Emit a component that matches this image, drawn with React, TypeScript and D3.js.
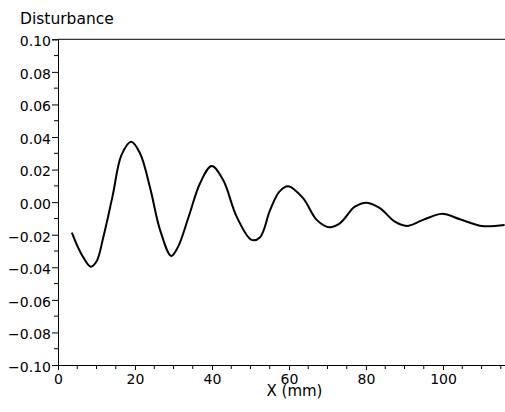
import React, { useRef, useEffect } from "react";
import * as d3 from "d3";

// values
const xPositions = [
  3.6, 6.0, 8.5, 10.0, 11.8, 14.2, 16.5, 19.0, 21.3, 24.0, 26.5, 29.4, 31.2,
  34.0, 36.9, 39.9, 42.9, 46.4, 50.3, 52.5, 55.1, 57.5, 59.8, 63.6, 67.2, 70.4,
  73.2, 77.1, 80.2, 83.6, 87.5, 90.6, 94.8, 99.7, 104.4, 110.0, 116.0,
];
const disturbance = [
  -0.0187, -0.0315, -0.0396, -0.0365, -0.0212, 0.004, 0.029, 0.0371, 0.03,
  0.008, -0.017, -0.033, -0.0273, -0.0085, 0.0116, 0.0222, 0.0136, -0.0089,
  -0.0232, -0.0215, -0.0048, 0.0065, 0.0098, 0.0026, -0.0109, -0.0154, -0.013,
  -0.0028, -0.0003, -0.0037, -0.012, -0.0146, -0.0109, -0.0072, -0.0105,
  -0.0146, -0.014,
];
const xMajorTicks = [0, 20, 40, 60, 80, 100];
const yMajorTicks = [-0.1, -0.08, -0.06, -0.04, -0.02, 0, 0.02, 0.04, 0.06, 0.08, 0.1];

const width = 505;
const height = 412;
const margin = { top: 39.3, right: 0, bottom: 47, left: 58 };

const App = () => {
  const svgRef = useRef<SVGSVGElement>(null);

  useEffect(() => {
    const svg = d3.select(svgRef.current);
    svg.selectAll("*").remove();

    const x = d3
      .scaleLinear()
      .domain([0, 116.1])
      .range([margin.left, width - margin.right]);
    const y = d3
      .scaleLinear()
      .domain([-0.1, 0.1])
      .range([height - margin.bottom, margin.top]);

    const font = "'DejaVu Sans', sans-serif";

    // title
    svg
      .append("text")
      .attr("x", 20)
      .attr("y", 24)
      .style("font-family", font)
      .style("font-size", "15.5px")
      .text("Disturbance");

    // top frame line
    svg
      .append("line")
      .attr("x1", x(0))
      .attr("x2", width)
      .attr("y1", y(0.1))
      .attr("y2", y(0.1))
      .attr("stroke", "black");

    // y axis
    const yAxis = svg
      .append("g")
      .attr("transform", `translate(${margin.left},0)`)
      .call(
        d3
          .axisLeft(y)
          .tickValues(yMajorTicks)
          .tickSize(6)
          .tickPadding(1)
          .tickFormat(d3.format(".2f"))
      );
    yAxis.select(".domain").attr("stroke", "black");
    yAxis
      .selectAll("text")
      .attr("dy", "0.45em")
      .style("font-family", font)
      .style("font-size", "14px")
      .attr("fill", "black");
    yAxis
      .selectAll(".minor")
      .data(d3.range(-0.09, 0.1, 0.02))
      .enter()
      .append("line")
      .attr("class", "minor")
      .attr("x1", -4)
      .attr("x2", 0)
      .attr("y1", (d) => y(d))
      .attr("y2", (d) => y(d))
      .attr("stroke", "black");

    // x axis
    const xAxis = svg
      .append("g")
      .attr("transform", `translate(0,${height - margin.bottom})`)
      .call(
        d3
          .axisBottom(x)
          .tickValues(xMajorTicks)
          .tickSize(5)
          .tickPadding(4)
          .tickFormat(d3.format("d"))
      );
    xAxis.select(".domain").attr("stroke", "black");
    xAxis
      .selectAll("text")
      .style("font-family", font)
      .style("font-size", "14px")
      .attr("fill", "black");
    xAxis
      .selectAll(".minor")
      .data(d3.range(5, 116, 5).filter((d) => d % 20 !== 0))
      .enter()
      .append("line")
      .attr("class", "minor")
      .attr("x1", (d) => x(d))
      .attr("x2", (d) => x(d))
      .attr("y1", 0)
      .attr("y2", 4)
      .attr("stroke", "black");

    svg
      .append("text")
      .attr("x", 294.5)
      .attr("y", 396)
      .attr("text-anchor", "middle")
      .style("font-family", font)
      .style("font-size", "15px")
      .text("X (mm)");

    // curve
    const data = xPositions.map((d, i) => ({ x: d, y: disturbance[i] }));
    const line = d3
      .line<{ x: number; y: number }>()
      .x((d) => x(d.x))
      .y((d) => y(d.y))
      .curve(d3.curveCatmullRom.alpha(0.5));

    svg
      .append("path")
      .datum(data)
      .attr("d", line)
      .attr("fill", "none")
      .attr("stroke", "black")
      .attr("stroke-width", 2);
  }, []);

  return (
    <svg
      ref={svgRef}
      width={width}
      height={height}
      style={{ position: "absolute", left: 0, top: 0, background: "white" }}
    />
  );
};

export default App;
